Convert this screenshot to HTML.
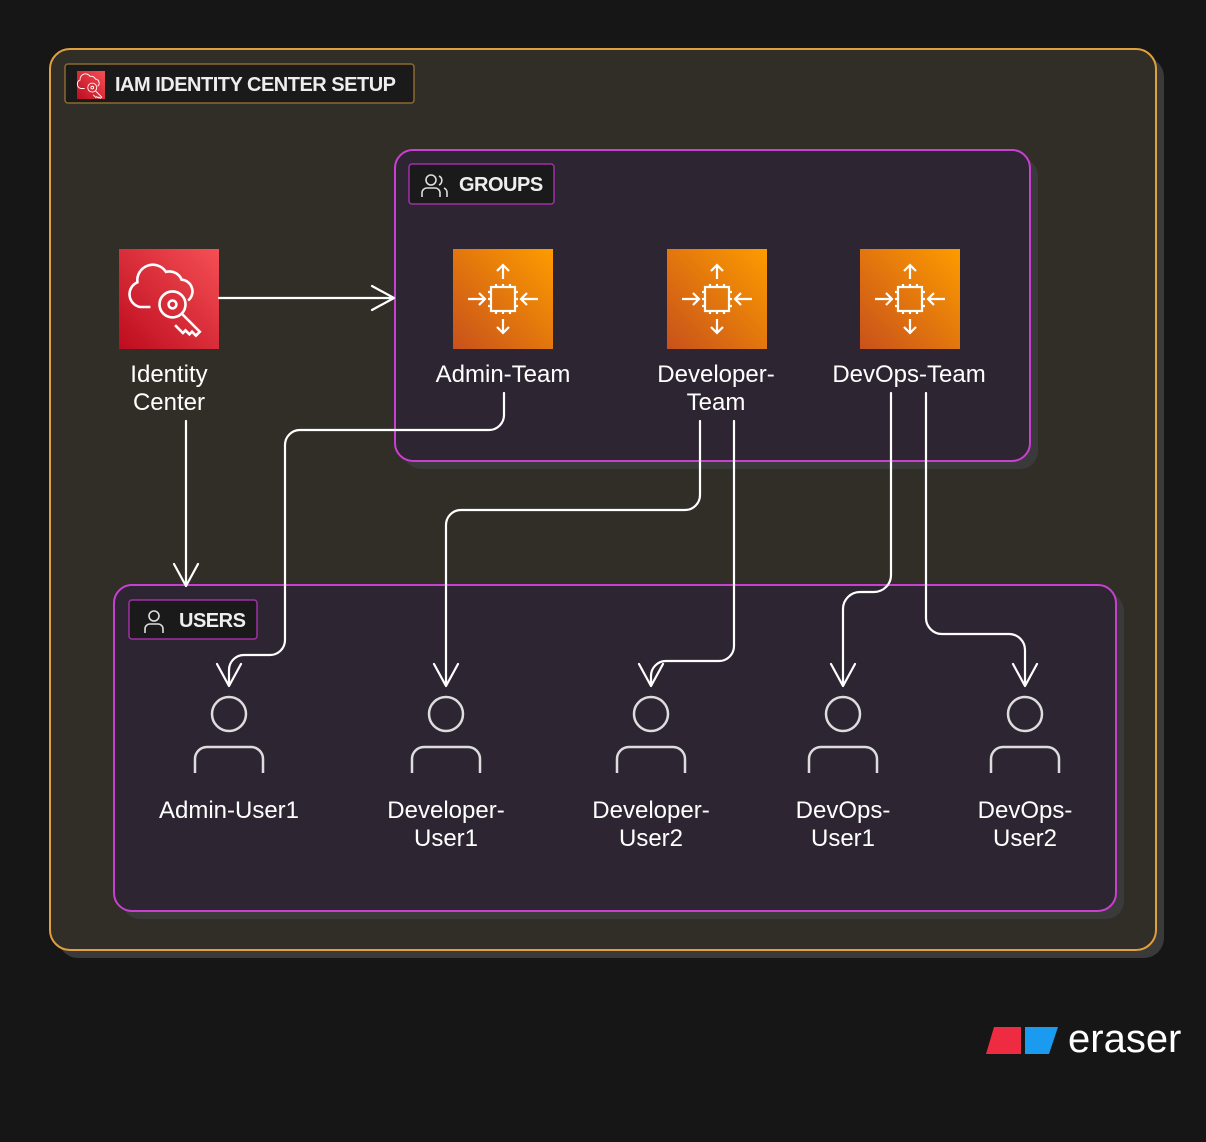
<!DOCTYPE html>
<html><head><meta charset="utf-8"><style>
html,body{margin:0;padding:0;background:#161616;}
svg{display:block;font-family:"Liberation Sans",sans-serif;}
</style></head><body>
<svg width="1206" height="1142" viewBox="0 0 1206 1142" xmlns="http://www.w3.org/2000/svg">
<defs>
<linearGradient id="red" x1="0" y1="1" x2="1" y2="0"><stop offset="0" stop-color="#bd0c1e"/><stop offset="1" stop-color="#f54f55"/></linearGradient>
<linearGradient id="org" x1="0" y1="1" x2="1" y2="0"><stop offset="0" stop-color="#c8511b"/><stop offset="1" stop-color="#fd9c00"/></linearGradient>
<g id="chip" fill="none" stroke="#fff" stroke-width="2.2">
<rect x="-12" y="-12" width="24" height="24"/>
<path d="M-7-12v-3M0-12v-3M7-12v-3M-7 12v3M0 12v3M7 12v3M-12-7h-3M-12 0h-3M-12 7h-3M12-7h3M12 0h3M12 7h3"/>
<path d="M0-20v-14M-6-28l6-6 6 6M0 20v14M-6 28l6 6 6-6M-35 0h17M-24-6l6 6-6 6M35 0h-17M24-6l-6 6 6 6"/>
</g>
<g id="cloud" fill="none" stroke="#fff" stroke-width="2">
<path d="M-12 10h-8a10 10 0 0 1 -2-19a12 12 0 0 1 22-8a10 10 0 0 1 12 6a9 9 0 0 1 5 16"/>
<circle cx="5" cy="8" r="10"/><circle cx="5" cy="8" r="3"/>
<path d="M12 15l14 14-3 3-3-3-2 2-3-3-2 2-6-6"/>
</g>
<g id="user" fill="none" stroke="#ddd" stroke-width="2.5">
<circle cx="0" cy="0" r="17"/>
<path d="M-34 59v-14a12 12 0 0 1 12-12h44a12 12 0 0 1 12 12v14"/>
</g>
</defs>
<rect x="58" y="57" width="1106" height="901" rx="20" fill="#3a3a3a"/>
<rect x="50" y="49" width="1106" height="901" rx="20" fill="#312e27" stroke="#e0a03c" stroke-width="2"/>
<rect x="65" y="64" width="349" height="39" rx="3" fill="#1a1a1a" stroke="#8a6a30" stroke-width="1.5"/>
<rect x="77" y="71" width="28" height="28" fill="url(#red)"/>
<g transform="translate(90,84) scale(0.45)"><use href="#cloud"/></g>
<text x="115" y="91" fill="#eee" font-size="20" font-weight="bold" letter-spacing="-0.5">IAM IDENTITY CENTER SETUP</text>
<rect x="403" y="158" width="635" height="311" rx="18" fill="#3a3a3a"/>
<rect x="395" y="150" width="635" height="311" rx="18" fill="#2e2533" stroke="#c840d0" stroke-width="2"/>
<rect x="409" y="164" width="145" height="40" rx="3" fill="#1a1a1a" stroke="#a030a8" stroke-width="1.5"/>
<g fill="none" stroke="#ddd" stroke-width="1.6"><circle cx="431" cy="180" r="5"/><path d="M422 197v-4a5 5 0 0 1 5-5h8a5 5 0 0 1 5 5v4M439 176a5 5 0 0 1 0 9M444 188a5 5 0 0 1 3 5v4"/></g>
<text x="459" y="191" fill="#eee" font-size="20" font-weight="bold" letter-spacing="-0.5">GROUPS</text>
<rect x="122" y="593" width="1002" height="326" rx="18" fill="#3a3a3a"/>
<rect x="114" y="585" width="1002" height="326" rx="18" fill="#2e2533" stroke="#c840d0" stroke-width="2"/>
<rect x="129" y="600" width="128" height="39" rx="3" fill="#1a1a1a" stroke="#a030a8" stroke-width="1.5"/>
<g fill="none" stroke="#ddd" stroke-width="1.6"><circle cx="154" cy="616" r="5"/><path d="M145 633v-4a5 5 0 0 1 5-5h8a5 5 0 0 1 5 5v4"/></g>
<text x="179" y="627" fill="#eee" font-size="20" font-weight="bold" letter-spacing="-0.5">USERS</text>
<rect x="119" y="249" width="100" height="100" fill="url(#red)"/>
<g transform="translate(166,294) scale(1.3)"><use href="#cloud"/></g>
<g fill="#fff" font-size="24" text-anchor="middle">
<text x="169" y="382">Identity</text><text x="169" y="410">Center</text>
<text x="503" y="382">Admin-Team</text>
<text x="716" y="382">Developer-</text><text x="716" y="410">Team</text>
<text x="909" y="382">DevOps-Team</text>
<text x="229" y="818">Admin-User1</text>
<text x="446" y="818">Developer-</text><text x="446" y="846">User1</text>
<text x="651" y="818">Developer-</text><text x="651" y="846">User2</text>
<text x="843" y="818">DevOps-</text><text x="843" y="846">User1</text>
<text x="1025" y="818">DevOps-</text><text x="1025" y="846">User2</text>
</g>
<rect x="453" y="249" width="100" height="100" fill="url(#org)"/><g transform="translate(503,299)"><use href="#chip"/></g>
<rect x="667" y="249" width="100" height="100" fill="url(#org)"/><g transform="translate(717,299)"><use href="#chip"/></g>
<rect x="860" y="249" width="100" height="100" fill="url(#org)"/><g transform="translate(910,299)"><use href="#chip"/></g>
<g transform="translate(229,714)"><use href="#user"/></g>
<g transform="translate(446,714)"><use href="#user"/></g>
<g transform="translate(651,714)"><use href="#user"/></g>
<g transform="translate(843,714)"><use href="#user"/></g>
<g transform="translate(1025,714)"><use href="#user"/></g>
<g fill="none" stroke="#fff" stroke-width="2.2" stroke-linecap="round" stroke-linejoin="round">
<path d="M219 298H394M372 286l22 12-22 12"/>
<path d="M186 421V586M174 564l12 22 12-22"/>
<path d="M504 393v22a15 15 0 0 1 -15 15H300a15 15 0 0 0 -15 15V640a15 15 0 0 1 -15 15H244a15 15 0 0 0 -15 15V686M217 664l12 22 12-22"/>
<path d="M700 421v74a15 15 0 0 1 -15 15H461a15 15 0 0 0 -15 15V686M434 664l12 22 12-22"/>
<path d="M734 421v225a15 15 0 0 1 -15 15H666a15 15 0 0 0 -15 15V686M639 664l12 22 12-22"/>
<path d="M891 393v182a17 17 0 0 1 -17 17h-14a17 17 0 0 0 -17 17V686M831 664l12 22 12-22"/>
<path d="M926 393v225a16 16 0 0 0 16 16h67a16 16 0 0 1 16 16V686M1013 664l12 22 12-22"/>
</g>
<polygon points="994,1027 1021,1027 1021,1054 986,1054" fill="#ee2b40"/>
<polygon points="1025,1027 1058,1027 1049,1054 1025,1054" fill="#1b9bf0"/>
<text x="1068" y="1052" fill="#fff" font-size="40">eraser</text>
</svg>
</body></html>
